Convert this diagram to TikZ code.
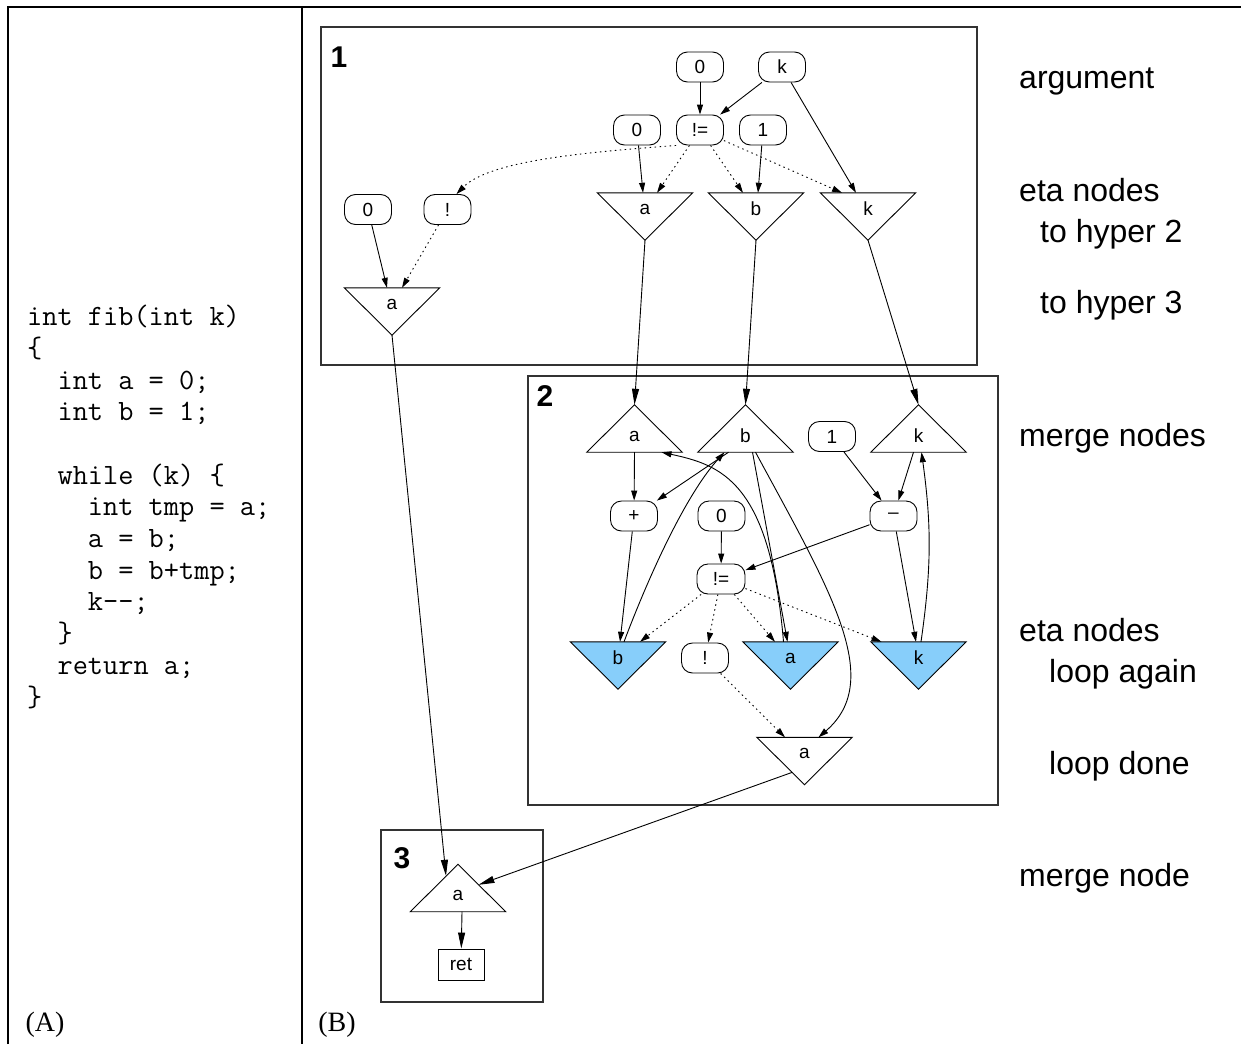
\documentclass[tikz,border=0pt]{standalone}
\usepackage{fontspec}
\setmainfont{Liberation Serif}
\setsansfont{Liberation Sans}
\usetikzlibrary{arrows.meta, backgrounds}
\definecolor{loopblue}{HTML}{87CEFA}
\definecolor{boxgray}{HTML}{333333}
\newcommand{\lblfont}{\sffamily\fontsize{19}{21}\selectfont}
\newcommand{\notefont}{\sffamily\fontsize{32}{36}\selectfont}
\tikzset{
x=1pt, y=-1pt, % coordinates in pixels, measured from the top left corner
>={Triangle[length=10pt, width=6pt]}, % filled arrow heads
wire/.style={->, line width=0.9pt}, % data edge inside a hyper node
bigwire/.style={-{Triangle[length=16pt, width=7pt]}, line width=0.9pt}, % edge between hyper nodes
ctrl/.style={wire, dash pattern=on 1.5pt off 3.5pt}, % dotted predicate edge
op/.style={draw, line width=0.9pt, rounded corners=11pt, minimum width=47pt, minimum height=30pt, inner sep=0pt, font=\lblfont}, % value or operator
tri/.style={minimum width=95pt, minimum height=47pt, inner sep=0pt}, % box round a triangle
eta/.style 2 args={tri, label={[font=\lblfont, yshift=7.5pt]center:#1},
  append after command={\pgfextra{\begin{pgfonlayer}{background}
    \draw[line width=0.9pt, fill=#2] (\tikzlastnode.north west) -- (\tikzlastnode.north east) -- (\tikzlastnode.south) -- cycle;
  \end{pgfonlayer}}}}, % eta node, pointing down
merge/.style={tri, label={[font=\lblfont, yshift=-7.5pt]center:#1},
  append after command={\pgfextra{\begin{pgfonlayer}{background}
    \draw[line width=0.9pt, fill=white] (\tikzlastnode.south west) -- (\tikzlastnode.south east) -- (\tikzlastnode.north) -- cycle;
  \end{pgfonlayer}}}}, % merge node, pointing up
cluster/.style={draw=boxgray, line width=1.2pt}, % frame of a hyper node
hyper/.style={font=\sffamily\bfseries\fontsize{30}{32}\selectfont, inner sep=0pt}, % number of a hyper node
note/.style={font=\notefont, anchor=base west, inner sep=0pt}, % comment on the right
code/.style={font=\ttfamily\fontsize{29.5}{31.7}\selectfont, align=left, inner sep=0pt, anchor=base west},
panel/.style={font=\rmfamily\fontsize{28}{30}\selectfont, inner sep=0pt},
frame/.style={line width=2.4pt},
}

\begin{document}
\begin{tikzpicture}
\useasboundingbox (0,0) rectangle (1241,1044);
\draw[frame] (8,1044) -- (8,7) -- (1241,7);
\draw[frame] (302,7) -- (302,1044);

% (A) source
\node[code] (src) at (27,706) {int fib(int k)\\\{\\~~int a = 0;\\~~int b = 1;\\[31.7pt]~~while (k) \{\\~~~~int tmp = a;\\~~~~a = b;\\~~~~b = b+tmp;\\~~~~k-{}-;\\~~\}\\~~return a;\\\}};
\node[panel] (pa) at (45,1025) {(A)};
\node[panel] (pb) at (337,1025) {(B)};

% hyper node frames
\draw[cluster] (321,27) rectangle (977,365);
\draw[cluster] (528,376) rectangle (998,805);
\draw[cluster] (381,830) rectangle (543,1002);
\node[hyper] (h1) at (339,57) {1};
\node[hyper] (h2) at (545,396) {2};
\node[hyper] (h3) at (402,858) {3};

% hyper node 1
\node[op] (Z0) at (700,67) {0};
\node[op] (K) at (782,67) {k};
\node[op] (Za) at (637,130) {0};
\node[op] (T1) at (700,130) {!=};
\node[op] (O1) at (763,130) {1};
\node[op] (Zr) at (368,209.5) {0};
\node[op] (N1) at (447.5,209.5) {!};
\node[eta={a}{white}] (E1a) at (645,216.5) {};
\node[eta={b}{white}] (E1b) at (756,216.5) {};
\node[eta={k}{white}] (E1k) at (868,216.5) {};
\node[eta={a}{white}] (E1r) at (392,311.5) {};

% hyper node 2
\node[merge=a] (M2a) at (634.5,428.5) {};
\node[merge=b] (M2b) at (745.5,428.5) {};
\node[merge=k] (M2k) at (918.5,428.5) {};
\node[op] (O2) at (832,436.5) {1};
\node[op] (P2) at (634,516) {+};
\node[op] (Z2) at (721.5,516) {0};
\node[op] (D2) at (893.5,516) {–};
\node[op, minimum width=48pt] (T2) at (721,579) {!=};
\node[eta={b}{loopblue}] (E2b) at (618,665.5) {};
\node[op] (N2) at (705,658) {!};
\node[eta={a}{loopblue}] (E2a) at (790.5,665.5) {};
\node[eta={k}{loopblue}] (E2k) at (918.5,665.5) {};
\node[eta={a}{white}] (E2r) at (804.5,761) {};

% hyper node 3
\node[merge=a] (M3a) at (458,888) {};
\node[draw, line width=0.9pt, minimum width=46pt, minimum height=31pt, inner sep=0pt, font=\lblfont] (R3) at (461,964.5) {ret};

% right hand comments
\node[note] (n1) at (1019,88) {argument};
\node[note] (n2) at (1019,201) {eta nodes};
\node[note] (n3) at (1040,242) {to hyper 2};
\node[note] (n4) at (1040,313) {to hyper 3};
\node[note] (n5) at (1019,446) {merge nodes};
\node[note] (n6) at (1019,641) {eta nodes};
\node[note] (n7) at (1049,682) {loop again};
\node[note] (n8) at (1049,774) {loop done};
\node[note] (n9) at (1019,886) {merge node};

% edges in hyper node 1
\draw[wire] (Z0) -- (T1);
\draw[wire] (K) -- (T1);
\draw[wire] (K) -- ([xshift=-12pt]E1k.north);
\draw[wire] (Za) -- ([xshift=-2pt]E1a.north);
\draw[wire] (O1) -- ([xshift=2pt]E1b.north);
\draw[ctrl] (T1) -- ([xshift=12pt]E1a.north);
\draw[ctrl] (T1) -- ([xshift=-13pt]E1b.north);
\draw[ctrl] (T1) -- ([xshift=-26pt]E1k.north);
\draw[ctrl] (T1.south west) .. controls (590,152) and (490,160) .. ([xshift=9pt]N1.north);
\draw[wire] (Zr) -- ([xshift=-5pt]E1r.north);
\draw[ctrl] (N1) -- ([xshift=10pt]E1r.north);

% edges between hyper nodes
\draw[bigwire] (E1a.south) -- (M2a.north);
\draw[bigwire] (E1b.south) -- (M2b.north);
\draw[bigwire] (E1k.south) -- (M2k.north);
\draw[bigwire] (E1r.south) -- ([shift={(-12pt,-11.5pt)}]M3a.north);
\draw[bigwire] ([shift={(-12.5pt,12.3pt)}]E2r.south) -- ([shift={(20.5pt,-20.5pt)}]M3a.north);

% edges in hyper node 2
\draw[wire] (M2a.south) -- (P2);
\draw[wire] ([xshift=-17pt]M2b.south) -- (P2);
\draw[wire] (P2) -- ([xshift=2pt]E2b.north);
\draw[wire] ([xshift=6pt]E2b.north) .. controls (655,560) and (690,490) .. ([xshift=-21pt]M2b.south);
\draw[wire] ([xshift=7pt]M2b.south) -- ([xshift=-3pt]E2a.north);
\draw[wire] ([xshift=10pt]M2b.south) .. controls (830,590) and (885,680) .. ([xshift=14pt]E2r.north);
\draw[wire] ([xshift=-7pt]E2a.north) .. controls (770,480) and (720,465) .. ([xshift=27pt]M2a.south);
\draw[wire] (O2) -- (D2);
\draw[wire] ([xshift=-5pt]M2k.south) -- (D2);
\draw[wire] (D2) -- ([xshift=-2.5pt]E2k.north);
\draw[wire] ([xshift=2.5pt]E2k.north) to[bend right=8] ([xshift=3pt]M2k.south);
\draw[wire] (D2) -- (T2);
\draw[wire] (Z2) -- (T2);
\draw[ctrl] (T2) -- ([xshift=22pt]E2b.north);
\draw[ctrl] (T2) -- (N2);
\draw[ctrl] (T2) -- ([xshift=-15.5pt]E2a.north);
\draw[ctrl] (T2) -- ([xshift=-37pt]E2k.north);
\draw[ctrl] (N2) -- ([xshift=-19.5pt]E2r.north);

% edge in hyper node 3
\draw[bigwire] ([xshift=4pt]M3a.south) -- (R3);
\end{tikzpicture}
\end{document}
